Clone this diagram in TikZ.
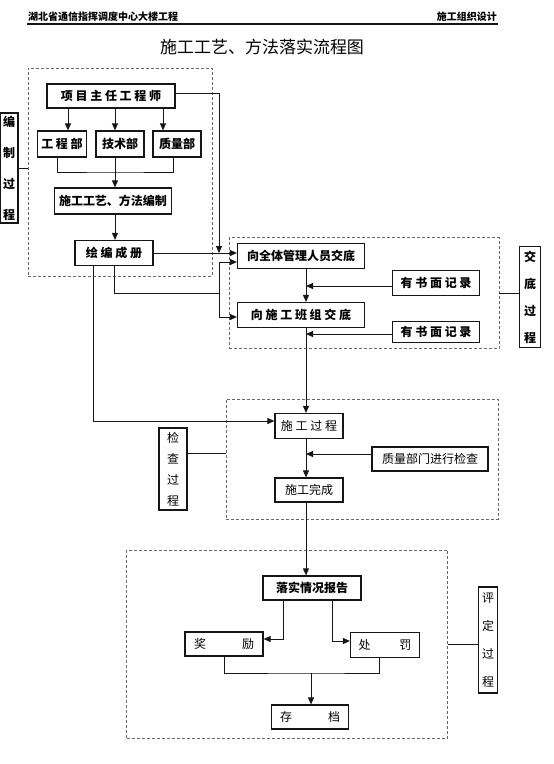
\documentclass[tikz,border=0pt]{standalone}
\usepackage{fontspec}
\setmainfont{Noto Sans CJK SC}
\usetikzlibrary{arrows.meta,positioning}
\definecolor{ink}{HTML}{161616}
\definecolor{frameg}{HTML}{6A6A6A}
\tikzset{
  stepbox/.style={
    rectangle, draw=ink, line width=1.2pt, fill=white,
    font=\fontsize{12}{14}\selectfont\bfseries, align=center,
    inner sep=2pt
  },
  plainbox/.style={
    stepbox, font=\fontsize{12}{14}\selectfont
  },
  tagbox/.style={
    rectangle, draw=ink, line width=1.2pt, fill=white,
    font=\fontsize{12}{#1}\selectfont\bfseries, align=center,
    inner sep=1pt
  },
  tagbox/.default=27,
  framebox/.style={
    rectangle, draw=frameg, densely dashed, line width=0.7pt
  },
  flowarrow/.style={
    -{Triangle[length=7pt,width=6pt]}, line width=0.9pt, color=ink
  },
  tieline/.style={line width=0.8pt, color=ink},
  headtext/.style={font=\fontsize{10}{12}\selectfont\bfseries, inner sep=0pt}
}

\begin{document}
\begin{tikzpicture}[x=1pt, y=-1pt]
\useasboundingbox (0,0) rectangle (554,764);
% page header
\node[headtext, anchor=base west] (proj) at (28,20) {湖北省通信指挥调度中心大楼工程};
\node[headtext, anchor=base east] (doc) at (497,20) {施工组织设计};
\draw[line width=1.3pt, ink] (27,24) -- (498,24);
\node[font=\fontsize{17}{19}\selectfont] (title) at (262,47) {施工工艺、方法落实流程图};

% dashed groups
\node[framebox, minimum width=184pt, minimum height=208pt] (frEdit) at (120,172) {};
\node[framebox, minimum width=270pt, minimum height=111pt] (frBrief) at (364,293) {};
\node[framebox, minimum width=272pt, minimum height=120pt] (frCheck) at (362,459) {};
\node[framebox, minimum width=321pt, minimum height=188pt] (frRate) at (287,644) {};

% side tags
\node[tagbox=31, minimum width=18pt, minimum height=110pt] (tagEdit) at (9,168) {编\\制\\过\\程};
\node[tagbox=27, minimum width=21pt, minimum height=101pt] (tagBrief) at (530,297) {交\\底\\过\\程};
\node[tagbox=21, font=\fontsize{12}{21}\selectfont, minimum width=28pt, minimum height=82pt] (tagCheck) at (173,469) {检\\查\\过\\程};
\node[tagbox=28, font=\fontsize{12}{28}\selectfont, minimum width=19pt, minimum height=106pt] (tagRate) at (488,640) {评\\定\\过\\程};
\draw[tieline] (tagEdit.east) -- (tagEdit.east -| frEdit.west);
\draw[tieline] (frBrief.east) -- (frBrief.east -| tagBrief.west);
\draw[tieline] ([yshift=16pt]tagCheck.east) -- ([yshift=16pt]tagCheck.east -| frCheck.west);
\draw[tieline] (frRate.east) -- (frRate.east -| tagRate.west);

% editing
\node[stepbox, minimum width=128pt, minimum height=24pt] (chief) at (111,96) {项 目 主 任 工 程 师};
\node[stepbox, minimum width=49pt, minimum height=26pt] (eng) at (62,144) {工 程 部};
\node[stepbox, minimum width=48pt, minimum height=26pt] (tech) at (120,144) {技术部};
\node[stepbox, minimum width=48pt, minimum height=26pt] (qual) at (177,144) {质量部};
\node[stepbox, minimum width=117pt, minimum height=26pt] (method) at (113,201) {施工工艺、方法编制};
\node[stepbox, minimum width=78pt, minimum height=25pt] (book) at (114,253) {绘 编 成 册};

\draw[flowarrow] ([xshift=-43pt]chief.south) -- ([xshift=6pt]eng.north);
\draw[flowarrow] ([xshift=4pt]chief.south) -- ([xshift=-5pt]tech.north);
\draw[flowarrow] ([xshift=52pt]chief.south) -- ([xshift=-14pt]qual.north);
\coordinate (join) at (115,172);
\draw[tieline] ([xshift=-5pt]eng.south) |- (join) -| ([xshift=-4pt]qual.south);
\draw[flowarrow] (tech.south -| join) -- (method.north -| join);
\draw[flowarrow] (method.south -| join) -- (book.north -| join);

% briefing
\node[stepbox, minimum width=127pt, minimum height=25pt] (allstaff) at (301,256) {向全体管理人员交底};
\node[stepbox, minimum width=127pt, minimum height=25pt] (crew) at (301,315) {向 施 工 班 组 交 底};
\node[stepbox, minimum width=87pt, minimum height=25pt] (noteA) at (436,283) {有 书 面 记 录};
\node[stepbox, minimum width=87pt, minimum height=21pt] (noteB) at (436,332) {有 书 面 记 录};

\coordinate (bus) at (219,293);
\draw[flowarrow] (book.east) -- (book.east -| allstaff.west);
\draw[flowarrow] ([yshift=3pt]chief.east) -| (book.east -| bus);
\draw[tieline] (book.south) |- (bus);
\draw[flowarrow] (bus) |- ([yshift=-6pt]allstaff.west);
\draw[flowarrow] (bus) |- ([yshift=-2pt]crew.west);

\coordinate (spine) at ([xshift=5pt]allstaff.south);
\draw[flowarrow] (spine) -- (spine |- crew.north);
\draw[flowarrow] ([yshift=-3pt]noteA.west) -- ([yshift=-3pt]noteA.west -| spine);
\draw[flowarrow] ([yshift=-2pt]noteB.west) -- ([yshift=-2pt]noteB.west -| spine);

% checking
\node[plainbox, minimum width=68pt, minimum height=25pt] (work) at (309,426) {施 工 过 程};
\node[plainbox, minimum width=116pt, minimum height=24pt] (inspect) at (430,459) {质量部门进行检查};
\node[plainbox, minimum width=68pt, minimum height=24pt] (done) at (309,490) {施工完成};

\draw[flowarrow] (crew.south -| spine) -- (work.north -| spine);
\draw[flowarrow] ([xshift=-21pt]book.south) |- ([yshift=5pt]work.west);
\draw[flowarrow] (work.south -| spine) -- (done.north -| spine);
\draw[flowarrow] ([yshift=5pt]inspect.west) -- ([yshift=5pt]inspect.west -| spine);

% rating
\node[stepbox, minimum width=98pt, minimum height=24pt] (report) at (312,588) {落实情况报告};
\node[plainbox, minimum width=78pt, minimum height=24pt] (reward) at (224,644) {奖\hspace{3em}励};
\node[plainbox, minimum width=69pt, minimum height=25pt] (punish) at (385,645) {处\hspace{2.4em}罚};
\node[plainbox, minimum width=77pt, minimum height=24pt] (archive) at (310,717) {存\hspace{3em}档};

\draw[flowarrow] (done.south -| spine) -- (report.north -| spine);
\draw[flowarrow] ([xshift=-29pt]report.south) |- ([yshift=5pt]reward.east);
\draw[flowarrow] ([xshift=20pt]report.south) |- ([yshift=4pt]punish.west);
\coordinate (merge) at (311,673);
\draw[tieline] (reward.south) |- (merge) -| ([xshift=-6pt]punish.south);
\draw[flowarrow] (merge) -- (merge |- archive.north);
\end{tikzpicture}
\end{document}
